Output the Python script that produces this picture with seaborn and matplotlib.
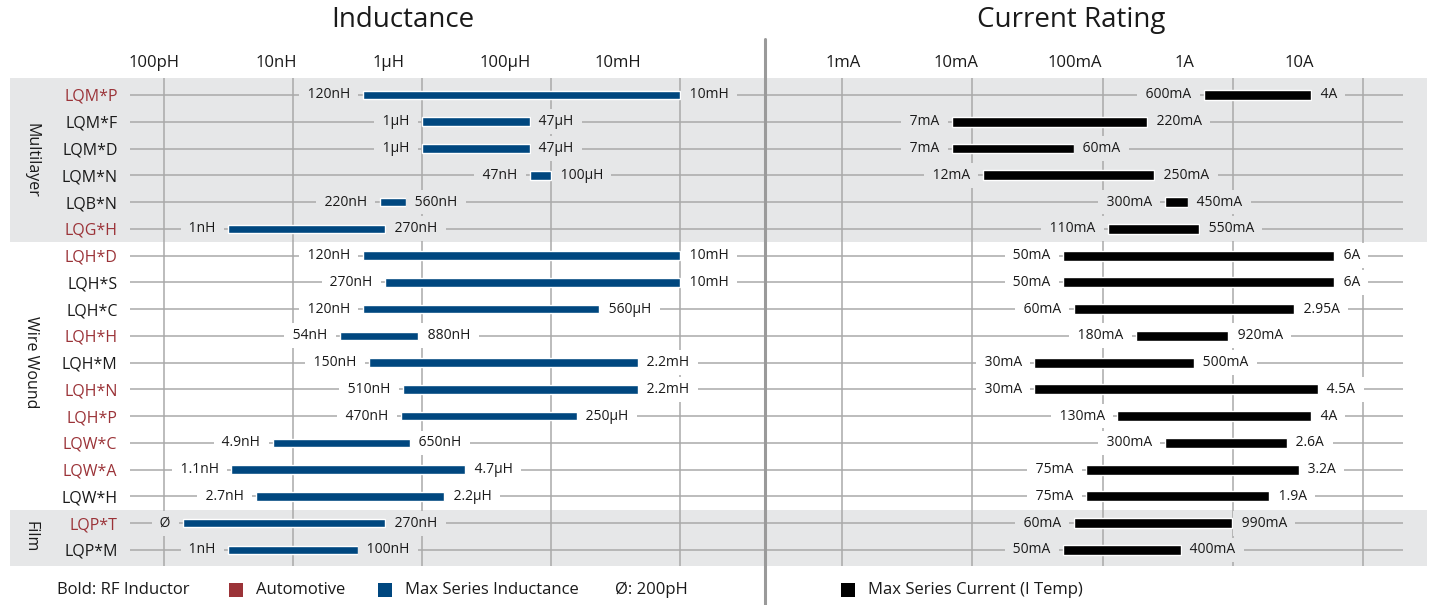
import matplotlib
matplotlib.use("Agg")
import matplotlib.pyplot as plt
from matplotlib.patches import Rectangle
from matplotlib.lines import Line2D
from matplotlib.transforms import blended_transform_factory
import seaborn as sns

# ---------------- data ----------------
parts = ["LQM*P", "LQM*F", "LQM*D", "LQM*N", "LQB*N", "LQG*H",
         "LQH*D", "LQH*S", "LQH*C", "LQH*H", "LQH*M", "LQH*N", "LQH*P",
         "LQW*C", "LQW*A", "LQW*H", "LQP*T", "LQP*M"]
automotive = [1, 0, 0, 0, 0, 1, 1, 0, 0, 1, 0, 1, 1, 1, 1, 0, 1, 0]
groups = ["Multilayer", "Wire Wound", "Film"]
group_rows = [(0, 5), (6, 15), (16, 17)]

ind_min = [120e-9, 1e-6, 1e-6, 47e-6, 220e-9, 1e-9, 120e-9, 270e-9, 120e-9,
           54e-9, 150e-9, 510e-9, 470e-9, 4.9e-9, 1.1e-9, 2.7e-9, 200e-12, 1e-9]
ind_max = [10e-3, 47e-6, 47e-6, 100e-6, 560e-9, 270e-9, 10e-3, 10e-3, 560e-6,
           880e-9, 2.2e-3, 2.2e-3, 250e-6, 650e-9, 4.7e-6, 2.2e-6, 270e-9, 100e-9]
ind_min_lbl = ["120nH", "1µH", "1µH", "47nH", "220nH", "1nH", "120nH", "270nH", "120nH",
               "54nH", "150nH", "510nH", "470nH", "4.9nH", "1.1nH", "2.7nH", "Ø", "1nH"]
ind_max_lbl = ["10mH", "47µH", "47µH", "100µH", "560nH", "270nH", "10mH", "10mH", "560µH",
               "880nH", "2.2mH", "2.2mH", "250µH", "650nH", "4.7µH", "2.2µH", "270nH", "100nH"]

cur_min = [0.6, 0.007, 0.007, 0.012, 0.3, 0.11, 0.05, 0.05, 0.06,
           0.18, 0.03, 0.03, 0.13, 0.3, 0.075, 0.075, 0.06, 0.05]
cur_max = [4, 0.22, 0.06, 0.25, 0.45, 0.55, 6, 6, 2.95,
           0.92, 0.5, 4.5, 4, 2.6, 3.2, 1.9, 0.99, 0.4]
cur_min_lbl = ["600mA", "7mA", "7mA", "12mA", "300mA", "110mA", "50mA", "50mA", "60mA",
               "180mA", "30mA", "30mA", "130mA", "300mA", "75mA", "75mA", "60mA", "50mA"]
cur_max_lbl = ["4A", "220mA", "60mA", "250mA", "450mA", "550mA", "6A", "6A", "2.95A",
               "920mA", "500mA", "4.5A", "4A", "2.6A", "3.2A", "1.9A", "990mA", "400mA"]

ind_grid = [1e-10, 1e-8, 1e-6, 1e-4, 1e-2]
ind_tick_lbl = ["100pH", "10nH", "1µH", "100µH", "10mH"]
cur_grid = [1e-3, 1e-2, 1e-1, 1, 10]
cur_tick_lbl = ["1mA", "10mA", "100mA", "1A", "10A"]

# ---------------- layout / style ----------------
ind_lbl_pos = [10**-10.15, 10**-8.26, 10**-6.52, 10**-4.71, 10**-2.97]
cur_lbl_pos = [10**-2.99, 10**-2.125, 10**-1.21, 10**-0.374, 10**0.509]
ind_xlim = (10**-10.527, 10**-0.698)
cur_xlim = (10**-3.599, 10**1.307)
ylim = (17.6, -0.635)
group_label_row = [2.45, 9.98, 16.5]

BAND = "#e6e7e8"
GRID = "#a9a9a9"
RED = "#9b3338"
BLUE = "#00477f"
TXT = "#1a1a1a"

sns.set_theme(style="white")
plt.rcParams["font.family"] = ["Open Sans", "DejaVu Sans"]

W, H = 1431, 605
fx = lambda px: px / W
fy = lambda py: 1 - py / H

fig = plt.figure(figsize=(W / 100, H / 100), dpi=100)
fig.patch.set_facecolor("white")
axL = fig.add_axes([fx(130), fy(566), fx(764) - fx(130), fy(78) - fy(566)])
axR = fig.add_axes([fx(764), fy(566), fx(1403) - fx(764), fy(78) - fy(566)])

n = len(parts)
rows = list(range(n))

# background bands (figure wide)
btr = blended_transform_factory(fig.transFigure, axL.transData)
row_bg = ["white"] * n
for gi, (s, e) in enumerate(group_rows):
    if gi % 2 == 0:
        y0 = ylim[1] if s == 0 else s - 0.5
        y1 = ylim[0] if e == n - 1 else e + 0.5
        fig.add_artist(Rectangle((fx(10), y0), fx(1427) - fx(10), y1 - y0,
                                 transform=btr, facecolor=BAND, edgecolor="none", zorder=-1))
        for r in range(s, e + 1):
            row_bg[r] = BAND


def setup(ax, xlim, grid, lblpos, lbls):
    ax.set_facecolor("none")
    ax.set_xscale("log")
    ax.set_xlim(*xlim)
    ax.set_ylim(*ylim)
    for sp in ax.spines.values():
        sp.set_visible(False)
    ax.xaxis.tick_top()
    ax.xaxis.set_minor_locator(matplotlib.ticker.NullLocator())
    ax.set_xticks(lblpos)
    ax.set_xticklabels(lbls, fontsize=12, color=TXT)
    ax.tick_params(axis="x", length=0, pad=5)
    for g in grid:
        ax.axvline(g, color=GRID, lw=1.1, zorder=1)
    for r in rows:
        ax.axhline(r, color=GRID, lw=1.1, zorder=1)
    ax.grid(False)


setup(axL, ind_xlim, ind_grid, ind_lbl_pos, ind_tick_lbl)
setup(axR, cur_xlim, cur_grid, cur_lbl_pos, cur_tick_lbl)

axL.set_yticks(rows)
axL.set_yticklabels(parts, fontsize=11.5)
axL.tick_params(axis="y", length=0, pad=9)
for t, a in zip(axL.get_yticklabels(), automotive):
    t.set_color(RED if a else TXT)
axR.set_yticks([])


def draw_ranges(ax, lo, hi, lo_lbl, hi_lbl, color, h):
    widths = [b - a for a, b in zip(lo, hi)]
    ax.barh(rows, widths, left=lo, height=h, color=color, zorder=3)
    for r in rows:
        ax.annotate(" " + lo_lbl[r] + " ", xy=(lo[r], r), xytext=(-6.5, 0),
                    textcoords="offset points", ha="right", va="center", fontsize=10,
                    color=TXT, zorder=4,
                    bbox=dict(boxstyle="square,pad=0.35", fc=row_bg[r], ec="none"))
        ax.annotate(" " + hi_lbl[r] + " ", xy=(hi[r], r), xytext=(4, 0),
                    textcoords="offset points", ha="left", va="center", fontsize=10,
                    color=TXT, zorder=4,
                    bbox=dict(boxstyle="square,pad=0.35", fc=row_bg[r], ec="none"))


draw_ranges(axL, ind_min, ind_max, ind_min_lbl, ind_max_lbl, BLUE, 0.32)
draw_ranges(axR, cur_min, cur_max, cur_min_lbl, cur_max_lbl, "black", 0.37)

# group labels
for g, yr in zip(groups, group_label_row):
    fig.text(fx(31), yr, g, transform=btr, rotation=270, ha="center", va="center",
             fontsize=11.5, color=TXT)

# titles
fig.text(fx(403), fy(20), "Inductance", ha="center", va="center", fontsize=20, color=TXT)
fig.text(fx(1071), fy(20), "Current Rating", ha="center", va="center", fontsize=20, color=TXT)

# divider
fig.add_artist(Line2D([fx(765), fx(765)], [fy(39), fy(605)], color="#9a9a9a", lw=2.2,
                      transform=fig.transFigure, zorder=5))

# legend
ly = fy(590)
fig.text(fx(57), ly, "Bold: RF Inductor", ha="left", va="center", fontsize=12, color=TXT)
for x0, c, lbl in [(229, RED, "Automotive"), (378, BLUE, "Max Series Inductance"),
                   (841, "black", "Max Series Current (I Temp)")]:
    fig.add_artist(Rectangle((fx(x0), fy(597)), fx(14), 14 / H, transform=fig.transFigure,
                             facecolor=c, edgecolor="none"))
    fig.text(fx(x0 + 27), ly, lbl, ha="left", va="center", fontsize=12, color=TXT)
fig.text(fx(615), ly, "Ø: 200pH", ha="left", va="center", fontsize=12, color=TXT)

fig.savefig("out.png", dpi=100)
